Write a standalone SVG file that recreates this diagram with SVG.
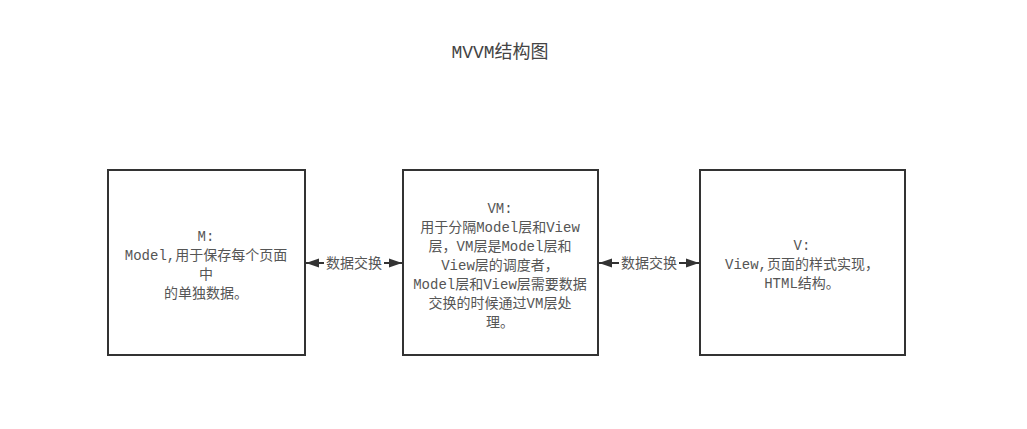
<svg xmlns="http://www.w3.org/2000/svg" width="1027" height="429" viewBox="0 0 1027 429">
<style>
.box{fill:#fff;stroke:#333;stroke-width:2}
.t{font-family:"Liberation Mono","Noto Sans CJK SC",monospace;font-size:14px;fill:#555;text-anchor:middle}
.title{font-family:"Liberation Mono","Noto Sans CJK SC",monospace;font-size:18px;fill:#444;text-anchor:middle}
.edge{stroke:#333;stroke-width:2;fill:none}
</style>
<defs>
<marker id="ah" viewBox="0 0 13 10" refX="13" refY="5" markerWidth="13" markerHeight="10" markerUnits="userSpaceOnUse" orient="auto-start-reverse">
<path d="M0,0.5 L13,5 L0,9.5 Z" fill="#333"/>
</marker>
</defs>
<rect width="1027" height="429" fill="#fff"/>
<text class="title" x="500" y="58">MVVM结构图</text>
<g id="connectors">
<line class="edge" x1="306" y1="263" x2="402" y2="263" marker-start="url(#ah)" marker-end="url(#ah)"/>
<rect x="324" y="253" width="60" height="20" fill="#fff"/>
<text class="t" x="354" y="268">数据交换</text>
<line class="edge" x1="599" y1="263" x2="699" y2="263" marker-start="url(#ah)" marker-end="url(#ah)"/>
<rect x="619" y="253" width="60" height="20" fill="#fff"/>
<text class="t" x="649" y="268">数据交换</text>
</g>
<g id="node-m">
<rect class="box" x="108" y="170" width="197" height="185"/>
<text class="t" x="206" y="241">M:</text>
<text class="t" x="206" y="260">Model,用于保存每个页面</text>
<text class="t" x="206" y="279">中</text>
<text class="t" x="206" y="298">的单独数据。</text>
</g>
<g id="node-vm">
<rect class="box" x="403" y="170" width="195" height="185"/>
<text class="t" x="500" y="213">VM:</text>
<text class="t" x="500" y="232">用于分隔Model层和View</text>
<text class="t" x="500" y="251">层，VM层是Model层和</text>
<text class="t" x="500" y="270">View层的调度者，</text>
<text class="t" x="500" y="289">Model层和View层需要数据</text>
<text class="t" x="500" y="308">交换的时候通过VM层处</text>
<text class="t" x="500" y="327">理。</text>
</g>
<g id="node-v">
<rect class="box" x="700" y="170" width="205" height="185"/>
<text class="t" x="802" y="250">V:</text>
<text class="t" x="802" y="269">View,页面的样式实现，</text>
<text class="t" x="802" y="288">HTML结构。</text>
</g>
</svg>
